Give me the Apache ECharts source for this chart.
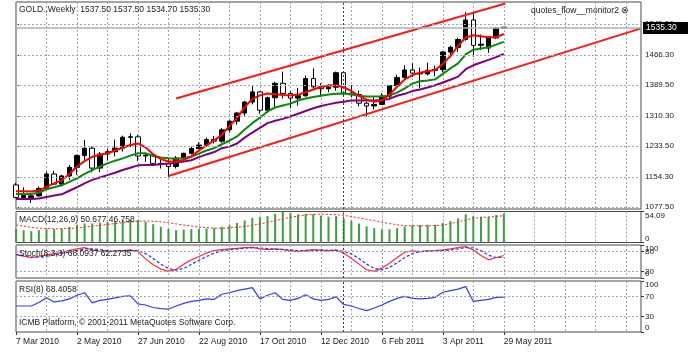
<!DOCTYPE html>
<html>
<head>
<meta charset="utf-8">
<title>GOLD weekly</title>
<script src="https://cdn.jsdelivr.net/npm/echarts@6/dist/echarts.min.js"></script>
<style>
  html, body { margin: 0; padding: 0; background: #fff; }
  #chart { width: 688px; height: 353px; }
</style>
</head>
<body>
<div id="chart"></div>
<script>
// weekly bars, Sunday start; slots after the last bar are the empty space on the right
const firstWeek = [2010, 2, 7];
const weekSlots = 83;
const lastBar = 64;
const monthNames = ["Jan", "Feb", "Mar", "Apr", "May", "Jun", "Jul", "Aug", "Sep", "Oct", "Nov", "Dec"];

// [open, high, low, close]
const weeklyOHLC = [
  [1134, 1139, 1100, 1102], [1102, 1128, 1098, 1107], [1101, 1110, 1088, 1106], [1106, 1130, 1103, 1125],
  [1125, 1168, 1122, 1162], [1162, 1170, 1134, 1136], [1136, 1160, 1130, 1157], [1157, 1185, 1147, 1179],
  [1179, 1212, 1160, 1209], [1209, 1249, 1198, 1228], [1228, 1232, 1166, 1177], [1177, 1218, 1167, 1213],
  [1213, 1227, 1196, 1219], [1219, 1250, 1207, 1228], [1228, 1260, 1219, 1256], [1256, 1266, 1231, 1257],
  [1257, 1262, 1195, 1208], [1208, 1214, 1193, 1210], [1210, 1215, 1188, 1189], [1189, 1203, 1176, 1188],
  [1188, 1200, 1155, 1181], [1181, 1208, 1176, 1203], [1203, 1216, 1192, 1215], [1215, 1232, 1212, 1227],
  [1227, 1243, 1225, 1236], [1236, 1255, 1232, 1250], [1250, 1259, 1240, 1246], [1246, 1280, 1242, 1275],
  [1275, 1300, 1268, 1297], [1297, 1321, 1288, 1318], [1318, 1349, 1311, 1346], [1346, 1387, 1340, 1372],
  [1372, 1373, 1316, 1325], [1325, 1360, 1318, 1357], [1357, 1398, 1329, 1394], [1394, 1424, 1355, 1368],
  [1368, 1374, 1330, 1356], [1356, 1382, 1337, 1362], [1362, 1414, 1360, 1406], [1406, 1432, 1380, 1385],
  [1385, 1394, 1360, 1380], [1380, 1392, 1371, 1384], [1384, 1424, 1375, 1421], [1421, 1423, 1362, 1369],
  [1369, 1389, 1358, 1365], [1365, 1375, 1335, 1343], [1343, 1346, 1309, 1336], [1336, 1358, 1327, 1340],
  [1340, 1369, 1338, 1361], [1361, 1390, 1354, 1388], [1388, 1416, 1385, 1409], [1409, 1440, 1405, 1428],
  [1428, 1445, 1410, 1420], [1420, 1434, 1381, 1418], [1418, 1447, 1414, 1427], [1427, 1439, 1412, 1429],
  [1429, 1476, 1422, 1474], [1474, 1490, 1460, 1486], [1486, 1510, 1474, 1506], [1506, 1576, 1503, 1556],
  [1556, 1577, 1462, 1491], [1491, 1519, 1479, 1494], [1484, 1513, 1472, 1512], [1510, 1538, 1507, 1535],
  [1537.5, 1537.5, 1534.7, 1535.3]
];

const maFast = [1118, 1118, 1117, 1120, 1129, 1138, 1146, 1162, 1181, 1195, 1206, 1211, 1215, 1222, 1229, 1236, 1240, 1230, 1212, 1200,
  1194, 1194, 1198, 1207, 1222, 1235, 1248, 1262, 1285, 1305, 1333, 1354, 1363, 1368, 1366, 1364, 1363, 1365, 1371, 1378,
  1385, 1388, 1389, 1384, 1374, 1362, 1352, 1347, 1350, 1365, 1385, 1404, 1415, 1421, 1425, 1428, 1444, 1464, 1490, 1511,
  1517, 1514, 1512, 1512, 1520];
const maMid = [1111, 1111, 1111, 1114, 1123, 1128, 1133, 1142, 1151, 1162, 1172, 1181, 1189, 1196, 1202, 1209, 1215, 1215, 1208, 1204,
  1202, 1201, 1202, 1206, 1214, 1222, 1228, 1238, 1247, 1258, 1276, 1292, 1306, 1322, 1332, 1337, 1342, 1350, 1355, 1359,
  1362, 1365, 1367, 1368, 1365, 1362, 1360, 1360, 1360, 1363, 1370, 1381, 1393, 1399, 1401, 1404, 1418, 1432, 1445, 1468,
  1480, 1483, 1486, 1493, 1500];
const maSlow = [1098, 1098, 1098, 1099, 1103, 1107, 1110, 1119, 1128, 1138, 1147, 1153, 1159, 1165, 1172, 1178, 1184, 1185, 1185, 1187,
  1189, 1191, 1194, 1197, 1205, 1212, 1218, 1228, 1232, 1240, 1255, 1268, 1280, 1292, 1298, 1303, 1309, 1316, 1323, 1330,
  1336, 1340, 1344, 1347, 1350, 1350, 1350, 1350, 1351, 1354, 1362, 1367, 1374, 1378, 1383, 1389, 1396, 1403, 1411, 1430,
  1440, 1447, 1454, 1461, 1469];

// channel lines, [bar position, price]
const channelUpper = [[21.0, 1355], [64.2, 1598]];
const channelLower = [[20.0, 1157], [82, 1534.5]];

const macdMain = [23.4, 21.6, 19.8, 21.6, 23.4, 23.4, 24.5, 27.4, 30.4, 33.3, 33.3, 35, 36.2, 37.3, 39.2, 39.2, 39.2, 36.2, 32, 27.4,
  23.4, 21.6, 22.5, 23.4, 23.4, 24.5, 25.5, 27.4, 30, 34, 38.5, 43, 44, 46, 50, 54.09, 51, 49, 50, 49.5,
  47, 45, 46, 42, 38, 33, 28, 25, 23, 23, 25, 28, 30, 30.5, 31, 31, 34, 37.4, 42, 49,
  46, 45, 45, 48, 50.677];
const macdSignal = [30.4, 28.5, 26.5, 25, 24.5, 24, 24, 24.5, 25.5, 27, 28.5, 30, 31.5, 33, 34.5, 36, 37, 37.5, 37, 36,
  34.5, 32.5, 30.5, 28.5, 27, 26, 25, 25, 25.5, 26.5, 28, 30, 32.5, 35, 38, 41, 44, 46, 48, 49,
  49.5, 49, 48.5, 47.5, 45, 43, 40.5, 38, 35.5, 33, 31, 29.5, 29, 29, 29, 29.5, 30.5, 33, 36, 39.5,
  42, 43.5, 44.5, 45.5, 46.758];
const stochMain = [70, 66, 62, 66, 70, 74, 77, 84, 88, 92, 85, 81, 80, 81, 83, 85, 80, 58, 40, 27,
  20, 26, 42, 55, 65, 76, 83, 86, 88, 90, 92, 93, 88, 86, 88, 86, 82, 80, 84, 86,
  84, 82, 85, 75, 60, 42, 25, 20, 30, 45, 62, 78, 82, 80, 82, 83, 85, 88, 92, 95,
  85, 68, 55, 62, 68.09];
const stochSignal = [72, 68, 64, 63, 66, 70, 74, 78, 83, 88, 88, 86, 82, 81, 81, 83, 83, 74, 59, 42,
  29, 24, 29, 41, 54, 65, 75, 82, 86, 88, 90, 92, 91, 89, 87, 87, 85, 83, 82, 83,
  85, 84, 84, 81, 73, 59, 42, 29, 25, 32, 46, 62, 74, 80, 81, 82, 83, 85, 88, 92,
  91, 83, 69, 62, 62.27];
const rsiValues = [51, 51, 51, 58, 67, 59, 61, 65, 72, 77, 57, 62, 64, 67, 70, 71, 55, 53, 48, 46,
  45, 51, 56, 60, 62, 65, 64, 74, 77, 81, 84, 87, 65, 72, 77, 64, 62, 66, 73, 65,
  62, 64, 69, 54, 51, 46, 42, 47, 53, 60, 66, 70, 66, 65, 66, 68, 78, 81, 84, 89,
  60, 62, 64, 68, 68.41];

const priceTicks = [1077.5, 1154.3, 1233.5, 1310.3, 1389.5, 1466.3, 1545.5];
const lastPrice = 1535.3;
const macdTicks = [0, 54.09];
const stochTicks = [0, 100];
const stochLevels = [20, 80];
const rsiTicks = [0, 30, 70, 100];
const rsiLevels = [30, 70];
const yearBreak = 43;

const font = "'Liberation Sans', Arial, sans-serif";
const textColor = "#222";
const gridColor = "#9ea6ae";
const borderColor = "#4a4a4a";

const weeks = [];
for (let i = 0; i < weekSlots; i++) {
  const d = new Date(Date.UTC(firstWeek[0], firstWeek[1], firstWeek[2] + i * 7));
  weeks.push(d.getUTCDate() + " " + monthNames[d.getUTCMonth()] + " " + d.getUTCFullYear());
}

const panels = [
  { top: 2, height: 207, min: 1072.4, max: 1601.9, ticks: priceTicks, digits: 2 },
  { top: 211.5, height: 31, min: 0, max: 54.09, ticks: macdTicks, digits: 2 },
  { top: 245, height: 33, min: 0, max: 100, ticks: stochTicks, digits: 0 },
  { top: 281, height: 51, min: 0, max: 100, ticks: rsiTicks, digits: 0 }
];

const isLabelBar = idx => idx % 8 === 0 && idx <= lastBar;

const grids = panels.map(p => ({
  left: 16, right: 47, top: p.top, height: p.height,
  show: true, borderColor: borderColor, borderWidth: 1, backgroundColor: "transparent"
}));

const xAxes = panels.map((p, i) => ({
  type: "category", gridIndex: i, data: weeks, boundaryGap: false,
  axisLine: { show: false },
  axisTick: { show: i === 3, interval: isLabelBar, length: 3, lineStyle: { color: "#333" } },
  axisLabel: {
    show: i === 3, interval: isLabelBar, align: "left", margin: 5,
    fontSize: 8.5, color: textColor, fontFamily: font
  },
  splitLine: { show: true, interval: idx => idx % 4 === 0, lineStyle: { color: gridColor, type: [2, 2], width: 1 } }
}));
// plain bar-position axis for the channel lines
xAxes.push({ type: "value", gridIndex: 0, min: 0, max: weekSlots - 1, show: false });

const labelStyle = { margin: 4, fontSize: 8, color: textColor, fontFamily: font, hideOverlap: false };

const yAxes = panels.map((p, i) => ({
  type: "value", gridIndex: i, position: "right", min: p.min, max: p.max,
  axisLine: { show: false },
  splitLine: { show: false },
  axisTick: { show: true, customValues: p.ticks, length: 3, lineStyle: { color: "#333" } },
  axisLabel: Object.assign({
    customValues: p.ticks, showMinLabel: true, showMaxLabel: true,
    verticalAlignMaxLabel: i === 0 ? "middle" : "top",
    verticalAlignMinLabel: i === 0 ? "middle" : "bottom",
    formatter: v => (v === 0 ? "0" : v.toFixed(p.digits))
  }, labelStyle)
}));
// second scale on the stochastic panel so the 20/80 labels are not dropped next to 0/100
yAxes.push({
  type: "value", gridIndex: 2, position: "right", min: 0, max: 100,
  axisLine: { show: false }, splitLine: { show: false },
  axisTick: { show: true, customValues: stochLevels, length: 3, lineStyle: { color: "#333" } },
  axisLabel: Object.assign({ customValues: stochLevels, showMinLabel: true, showMaxLabel: true }, labelStyle)
});

const dashedLevel = { color: gridColor, type: [2, 2], width: 1 };
const breakLine = { color: "#3c3c3c", type: [2, 2], width: 1 };

// horizontal grid, levels and the year separator, kept under the marks
const guideSeries = (i, levels) => ({
  type: "line", xAxisIndex: i, yAxisIndex: i, data: [], z: 1, silent: true,
  markLine: {
    symbol: "none", silent: true, label: { show: false }, animation: false,
    data: levels.map(v => ({ yAxis: v, lineStyle: dashedLevel }))
      .concat([{ xAxis: weeks[yearBreak], lineStyle: breakLine }])
  }
});

const lineSeries = (i, data, color, width, type) => ({
  type: "line", xAxisIndex: i, yAxisIndex: i, data: data, showSymbol: false, z: 3,
  lineStyle: { color: color, width: width, type: type || "solid" }
});

const titleStyle = { fontSize: 8.5, fontWeight: "normal", color: textColor, fontFamily: font };
const titles = [
  { text: "GOLD.,Weekly  1537.50 1537.50 1534.70 1535.30", left: 19, top: 5 },
  { text: "quotes_flow__monitor2 \u2297", left: 531, top: 6 },
  { text: "MACD(12,26,9) 50.677 46.758", left: 19, top: 215 },
  { text: "Stoch(8,3,3) 68.0937 62.2735", left: 19, top: 249 },
  { text: "RSI(8) 68.4058", left: 19, top: 285 },
  { text: "ICMB Platform, \u00a9 2001-2011 MetaQuotes Software Corp.", left: 19, top: 318 }
].map(t => Object.assign({ padding: 0, textStyle: titleStyle }, t));

const option = {
  animation: false,
  backgroundColor: "#fff",
  title: titles,
  grid: grids,
  xAxis: xAxes,
  yAxis: yAxes,
  series: [
    guideSeries(0, priceTicks),
    guideSeries(1, []),
    guideSeries(2, stochLevels),
    guideSeries(3, rsiLevels),
    {
      type: "candlestick", xAxisIndex: 0, yAxisIndex: 0, z: 2, barWidth: 5,
      data: weeklyOHLC.map(r => [r[0], r[3], r[2], r[1]]),
      itemStyle: { color: "#000", color0: "#fff", borderColor: "#000", borderColor0: "#000", borderWidth: 1 },
      markLine: {
        symbol: "none", silent: true, animation: false,
        data: [{
          yAxis: lastPrice,
          lineStyle: { color: "#a9b1b9", type: "solid", width: 1.5 },
          label: {
            show: true, position: "end", distance: 2, formatter: lastPrice.toFixed(2),
            backgroundColor: "#000", color: "#fff", padding: [2, 14, 1, 3],
            fontSize: 8.5, fontFamily: font
          }
        }]
      }
    },
    lineSeries(0, maSlow, "#800080", 2),
    lineSeries(0, maMid, "#0a8a0a", 2),
    lineSeries(0, maFast, "#ff0000", 2),
    Object.assign(lineSeries(4, channelUpper, "#ff1a1a", 2), { yAxisIndex: 0 }),
    Object.assign(lineSeries(4, channelLower, "#ff1a1a", 2), { yAxisIndex: 0 }),
    {
      type: "bar", xAxisIndex: 1, yAxisIndex: 1, data: macdMain, barWidth: 2, z: 2,
      itemStyle: { color: "#3f9f3f" }
    },
    lineSeries(1, macdSignal, "#ff2020", 1, [2, 2]),
    lineSeries(2, stochMain, "#ff3030", 1.2),
    lineSeries(2, stochSignal, "#3030ff", 1.2, [3, 2]),
    lineSeries(3, rsiValues, "#3a3aff", 1.2)
  ]
};

const chart = echarts.init(document.getElementById("chart"), null, { renderer: "canvas" });
chart.setOption(option);
</script>
</body>
</html>
